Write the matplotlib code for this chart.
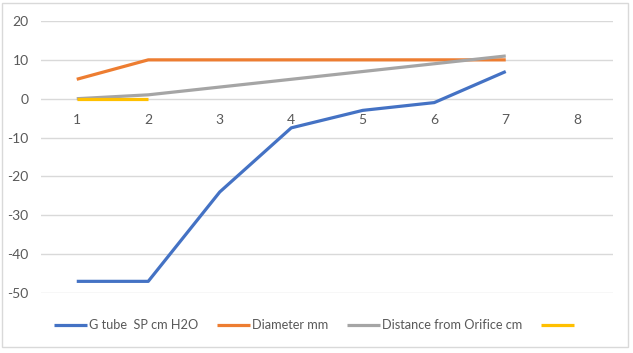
import matplotlib
matplotlib.use('Agg')
import matplotlib.pyplot as plt
from matplotlib.patches import Rectangle

categories = [1, 2, 3, 4, 5, 6, 7, 8]
g_tube_sp = [-47, -47, -24, -7.5, -3, -1, 7]
diameter_mm = [5, 10, 10, 10, 10, 10, 10]
distance_cm = [0, 1, 3, 5, 7, 9, 11]
unnamed = [0, 0]
y_ticks = [-50, -40, -30, -20, -10, 0, 10, 20]
labels = ['G tube  SP cm H2O', 'Diameter mm', 'Distance from Orifice cm', ' ']

colors = ['#4472C4', '#ED7D31', '#A5A5A5', '#FFC000']
text_col = '#595959'

plt.rcParams['font.family'] = ['Lato', 'DejaVu Sans']
plt.rcParams['font.size'] = 10
plt.rcParams['axes.unicode_minus'] = False

fig = plt.figure(figsize=(6.33, 3.53), dpi=100)
ax = fig.add_axes([41 / 633, 1 - 293 / 353, 572 / 633, 272 / 353])

series = [g_tube_sp, diameter_mm, distance_cm, unnamed]
handles = []
for vals, c in zip(series, colors):
    ln, = ax.plot(categories[:len(vals)], vals, color=c, lw=2.3,
                  solid_capstyle='butt', solid_joinstyle='round', zorder=3)
    handles.append(ln)

ax.set_xlim(0.5, 8.5)
ax.set_ylim(-50, 20)
ax.set_yticks(y_ticks)
ax.set_xticks(categories)
ax.grid(axis='y', color='#D9D9D9', lw=1)
ax.set_axisbelow(True)
for s in ax.spines.values():
    s.set_visible(False)
ax.spines['bottom'].set_position(('data', 0))
ax.tick_params(length=0, colors=text_col, labelsize=10)
ax.tick_params(axis='y', pad=9)
ax.tick_params(axis='x', pad=11)

fig.legend(handles, labels, loc='center', bbox_to_anchor=(0.5, 1 - 325 / 353),
           ncol=4, frameon=False, handlelength=2.6, handletextpad=0.1,
           columnspacing=1.5, labelcolor=text_col, fontsize=9.2)

fig.patches.append(Rectangle((2 / 633, 1 - 347 / 353), 626 / 633, 344 / 353,
                             transform=fig.transFigure, fill=False,
                             edgecolor='#D9D9D9', lw=1))

fig.savefig('out.png', dpi=100)
